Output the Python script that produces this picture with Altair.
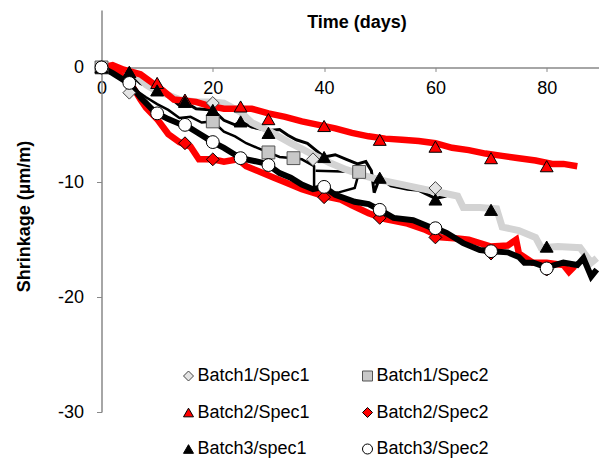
import altair as alt
import pandas as pd

FONT = "Liberation Sans"

series_names = ["Batch1/Spec1", "Batch1/Spec2", "Batch2/Spec1",
                "Batch2/Spec2", "Batch3/spec1", "Batch3/Spec2"]
marker_shapes = ["diamond", "square", "triangle-up", "diamond", "triangle-up", "circle"]
marker_fills = ["#e4e4e4", "#c8c8c8", "#ff0000", "#ff0000", "#000000", "#ffffff"]
marker_strokes = ["#444444", "#555555", "#000000", "#000000", "#000000", "#000000"]

x_ticks = [0, 20, 40, 60, 80]
y_ticks = [-30, -20, -10, 0]

# ---- continuous (logged) curves ----
b1s1_x = [0, 3, 6, 8, 10, 12, 14, 17, 20, 22, 25, 27, 30, 34, 38, 41, 44, 47, 50, 53, 56, 59,
          62, 64, 65, 68, 71, 72, 75, 78, 79, 82, 86, 88, 89]
b1s1_y = [0, -0.2, -0.5, -1.5, -2.1, -2.4, -2.8, -3.0, -3.0, -3.1, -3.9, -4.8, -5.5, -6.6, -7.6,
          -8.3, -8.9, -9.4, -9.8, -10.1, -10.4, -10.7, -11.0, -11.2, -12.2, -12.2, -12.3, -13.9,
          -14.2, -14.8, -15.7, -15.6, -15.7, -17.0, -16.6]

b1s2_x = [0, 3, 5, 8, 10, 12, 14, 16, 18, 20, 22, 24, 26, 28, 30, 32, 34.5, 36, 38.2, 38.2,
          42.5, 45.5, 46.3, 38.5]
b1s2_y = [0, -0.9, -1.6, -2.6, -3.2, -3.7, -4.4, -4.3, -4.8, -4.7, -5.6, -6.0, -6.6, -7.0, -7.4,
          -7.8, -7.9, -8.0, -8.6, -10.9, -10.9, -10.5, -9.1, -9.0]

b2s1_x = [0, 2, 4, 7, 9, 11, 13, 15, 17, 19, 22, 25, 27, 30, 33, 36, 39, 42, 45, 48, 51, 54,
          57, 60, 63, 66, 69, 72, 75, 78, 81, 83, 85.5]
b2s1_y = [0, 0.2, -0.2, -0.6, -1.3, -2.0, -2.8, -2.9, -3.0, -3.3, -3.6, -3.6, -3.6, -4.0, -4.3,
          -4.7, -5.0, -5.3, -5.7, -6.0, -6.2, -6.3, -6.4, -6.6, -7.0, -7.2, -7.5, -7.7, -7.9,
          -8.1, -8.4, -8.4, -8.6]

b2s2_x = [0, 3, 5, 7, 8, 10, 12, 14, 16, 17.5, 20, 22, 24.5, 26, 28, 31, 33, 36, 40, 43, 45,
          48, 51, 55, 58, 61, 64, 66, 70, 73, 74.5, 75, 77.5, 80, 83, 84, 85]
b2s2_y = [0, -0.5, -1.2, -2.8, -3.5, -4.5, -5.8, -6.5, -6.9, -8.0, -8.0, -8.2, -8.0, -8.6, -9.0,
          -9.6, -10.0, -10.6, -11.2, -11.5, -12.0, -12.7, -13.2, -13.6, -14.1, -14.8, -14.9,
          -15.0, -15.6, -15.5, -15.0, -16.2, -17.0, -17.0, -17.2, -17.8, -17.3]

b3s1_x = [0, 2, 5, 7, 10, 12, 14, 15, 17, 20, 22, 24, 25, 27, 30, 32, 33.5, 35, 37, 38.5, 40,
          42, 44, 46, 47.5, 48.5, 49, 50, 52, 55, 57, 60, 62]
b3s1_y = [0, -0.3, -0.5, -1.4, -2.0, -2.5, -3.3, -3.0, -3.6, -3.7, -4.6, -5.0, -4.7, -5.2, -5.5,
          -5.4, -5.9, -6.3, -6.6, -7.2, -7.8, -7.6, -8.0, -8.4, -8.2, -9.0, -10.9, -9.6, -10.3,
          -10.6, -10.7, -11.4, -11.2]

b3s2_x = [0, 2, 4, 5, 7, 9, 10, 12, 14, 15, 17, 19, 20, 22, 24, 25, 27, 29, 30, 32, 34, 36, 38,
          40, 42, 45.5, 48, 50, 52.5, 56, 59, 60, 62, 65, 68, 70, 73, 75, 76, 77.6, 80, 83,
          85.5, 86.6, 88, 89]
b3s2_y = [0, -0.5, -1.1, -1.35, -2.6, -3.6, -4.0, -4.5, -4.9, -5.0, -5.6, -6.2, -6.5, -7.0,
          -7.6, -7.9, -8.1, -8.3, -8.5, -9.2, -9.6, -10.2, -10.6, -10.4, -11.1, -11.7, -11.9,
          -12.4, -13.1, -13.3, -13.9, -14.0, -14.4, -15.3, -15.9, -16.0, -16.1, -16.5, -17.0,
          -17.0, -17.4, -17.0, -17.2, -16.6, -18.2, -17.6]

# ---- marker points ----
m_b1s1_x = [0, 5, 20, 38, 60]
m_b1s1_y = [0, -2.2, -3.1, -8.0, -10.5]
m_b1s2_x = [0, 20, 30, 34.5, 46.3]
m_b1s2_y = [0, -4.7, -7.4, -7.9, -9.1]
m_b2s1_x = [0, 5, 10, 15, 25, 30, 40, 50, 60, 70, 80]
m_b2s1_y = [0, -0.4, -1.35, -2.8, -3.4, -4.5, -5.1, -6.3, -6.9, -7.9, -8.6]
m_b2s2_x = [0, 15, 20, 40, 50, 60, 70, 80]
m_b2s2_y = [0, -6.6, -8.0, -11.3, -13.1, -14.8, -16.2, -17.6]
m_b3s1_x = [0, 5, 10, 15, 20, 25, 30, 40, 50, 60, 70, 80]
m_b3s1_y = [0, -0.4, -2.0, -3.0, -3.7, -4.7, -5.7, -7.8, -9.6, -11.5, -12.4, -15.6]
m_b3s2_x = [0, 5, 10, 15, 20, 25, 30, 40, 50, 60, 70, 80]
m_b3s2_y = [0, -1.35, -4.0, -5.0, -6.5, -7.9, -8.5, -10.4, -12.4, -14.0, -16.0, -17.5]

W, H = 497.5, 402
XMAX = 89.4
YMIN, YMAX = -30, 5

xscale = alt.Scale(domain=[0, XMAX], nice=False, zero=False)
yscale = alt.Scale(domain=[YMIN, YMAX], nice=False, zero=False)

x_axis = alt.Axis(
    orient="bottom", offset=-H * (0 - YMIN) / (YMAX - YMIN), values=x_ticks,
    title="Time (days)", titleFont=FONT, titleFontSize=18, titleFontWeight="bold",
    titleColor="black", titleX=255, titleY=-39.5, titleAlign="center",
    titleBaseline="alphabetic", labelFlush=False, labelExpr="'' + datum.value",
    labelFont=FONT, labelFontSize=18, labelColor="black", labelPadding=8,
    tickSize=4, tickColor="#888888", domainColor="#888888", domainWidth=1.5,
    grid=False)

y_axis = alt.Axis(
    values=y_ticks, title="Shrinkage (µm/m)", titleFont=FONT, titleFontSize=18,
    titleFontWeight="bold", titleColor="black", titleAngle=270, titleX=-72.5, titleY=206,
    titleAlign="center", titleBaseline="alphabetic", labelFlush=False,
    labelExpr="'' + datum.value",
    labelFont=FONT, labelFontSize=18, labelColor="black", labelPadding=13,
    tickSize=5, tickColor="#888888", domainColor="#888888", domainWidth=1.5,
    grid=False)


def line_layer(xs, ys, color, width):
    df = pd.DataFrame({"t": xs, "v": ys, "i": list(range(len(xs)))})
    return alt.Chart(df).mark_line(color=color, strokeWidth=width, clip=True).encode(
        x=alt.X("t:Q", scale=xscale, axis=x_axis),
        y=alt.Y("v:Q", scale=yscale, axis=y_axis),
        order=alt.Order("i:Q"),
    )


lines = [
    line_layer(b3s1_x, b3s1_y, "#000000", 3),
    line_layer(b1s2_x, b1s2_y, "#000000", 2.5),
    line_layer(b1s1_x, b1s1_y, "#d3d3d3", 7),
    line_layer(b2s1_x, b2s1_y, "#ff0000", 6.5),
    line_layer(b2s2_x, b2s2_y, "#ff0000", 6.5),
    line_layer(b3s2_x, b3s2_y, "#000000", 6),
]

mx = [m_b1s1_x, m_b1s2_x, m_b2s1_x, m_b2s2_x, m_b3s1_x, m_b3s2_x]
my = [m_b1s1_y, m_b1s2_y, m_b2s1_y, m_b2s2_y, m_b3s1_y, m_b3s2_y]
rows = []
for k, name in enumerate(series_names):
    for a, b in zip(mx[k], my[k]):
        rows.append({"t": a, "v": b, "s": name, "k": k})
mdf = pd.DataFrame(rows)

# legend is filled column by column: order entries so rows read like the reference
legend_order = [0, 2, 4, 1, 3, 5]
dom = [series_names[i] for i in legend_order]
shp = [marker_shapes[i] for i in legend_order]
fil = [marker_fills[i] for i in legend_order]
stk = [marker_strokes[i] for i in legend_order]

legend = alt.Legend(
    orient="none", legendX=78, legendY=357, columns=2, title=None,
    labelFont=FONT, labelFontSize=18, labelColor="black", labelOffset=0,
    symbolSize=100, symbolStrokeWidth=1,
    rowPadding=18.5, columnPadding=48)

markers = alt.Chart(mdf).mark_point(filled=True, size=165, strokeWidth=1, opacity=1).encode(
    x=alt.X("t:Q", scale=xscale, axis=x_axis),
    y=alt.Y("v:Q", scale=yscale, axis=y_axis),
    shape=alt.Shape("s:N", scale=alt.Scale(domain=dom, range=shp), legend=legend),
    fill=alt.Fill("s:N", scale=alt.Scale(domain=dom, range=fil), legend=legend),
    stroke=alt.Stroke("s:N", scale=alt.Scale(domain=dom, range=stk), legend=legend),
    order=alt.Order("k:Q"),
)

chart = alt.layer(*lines, markers).properties(
    width=W, height=H,
    autosize=alt.AutoSizeParams(type="none"),
    padding={"left": 101.5, "top": 10, "right": 0, "bottom": 47},
    background="white",
).configure_view(strokeWidth=0)

chart.save("out.html", embed_options={"renderer": "svg", "actions": False})
